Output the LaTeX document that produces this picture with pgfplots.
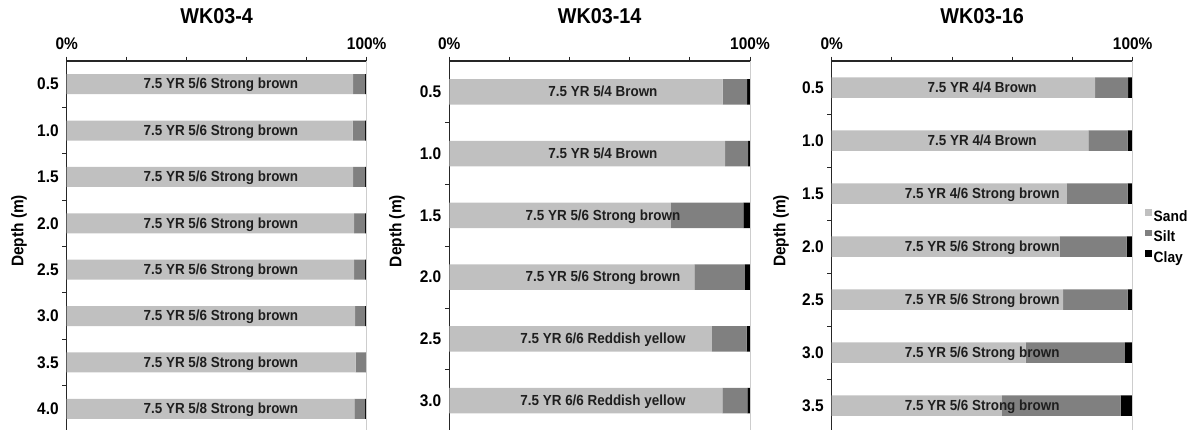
\documentclass[border=0pt]{standalone}
\usepackage{pgfplots}
\usepackage{pgfplotstable}
\pgfplotsset{compat=1.18}
\usepackage{fontspec}
\setmainfont{Liberation Sans}[FakeStretch=0.92]
\definecolor{sand}{RGB}{192,192,192}
\definecolor{silt}{RGB}{128,128,128}
\definecolor{clay}{RGB}{0,0,0}
\definecolor{framegray}{RGB}{205,205,205}
\definecolor{txt}{RGB}{30,30,30}

\pgfplotstableread{
depth sand silt clay
0.5 95.5 4.0 0.5
1.0 95.3 4.2 0.5
1.5 95.5 4.0 0.5
2.0 95.8 3.7 0.5
2.5 95.8 3.7 0.5
3.0 96.1 3.4 0.5
3.5 96.3 3.4 0.3
4.0 95.9 3.6 0.5
}\wka
\pgfplotstableread{
depth sand silt clay
0.5 90.9 8.1 1.0
1.0 91.7 7.7 0.6
1.5 73.7 24.1 2.2
2.0 81.5 16.8 1.7
2.5 87.3 11.6 1.1
3.0 90.8 8.3 0.9
}\wkb
\pgfplotstableread{
depth sand silt clay
0.5 87.5 11.0 1.5
1.0 85.3 13.0 1.7
1.5 78.1 20.2 1.7
2.0 75.8 22.2 2.0
2.5 76.9 21.4 1.7
3.0 64.4 33.0 2.6
3.5 56.5 39.5 4.0
}\wkc

\pgfplotsset{
  soilaxis/.style={
    scale only axis,
    width=300pt,
    xbar stacked,
    y dir=reverse,
    xmin=0, xmax=100,
    ymin=0.25,
    axis x line*=top,
    axis y line*=left,
    axis line style={line width=1.2pt, color=black!85},
    xtick={0,20,40,60,80,100},
    xticklabels={0\%,,,,,100\%},
    tick align=outside,
    major tick length=4.5pt,
    minor tick length=4.5pt,
    tick style={line width=1pt, color=black!85},
    every major y tick/.append style={draw=none},
    /pgf/number format/assume math mode=true,
    ticklabel style={font=\bfseries\fontsize{16.8}{19}\selectfont},
    xticklabel style={yshift=3.5pt},
    title style={font=\bfseries\fontsize{21.5}{26}\selectfont, at={(0.5,1)}, anchor=center, yshift=38.5pt},
    ylabel={Depth (m)},
    ylabel style={font=\bfseries\fontsize{16.8}{20}\selectfont, anchor=center},
    clip=false,
  },
  labaxis/.style={
    scale only axis,
    hide axis,
    y dir=reverse,
    xmin=0, xmax=100,
    ymin=0.25,
    clip=false,
  },
  labplot/.style={
    draw=none, mark=none,
    nodes near coords,
    point meta=explicit symbolic,
    nodes near coords align={center},
    every node near coord/.append style={anchor=base, yshift=-4.8pt,
      font=\bfseries\fontsize{14.6}{17}\selectfont, text=txt},
  },
  sandbar/.style={fill=sand, draw=none},
  siltbar/.style={fill=silt, draw=none},
  claybar/.style={fill=clay, draw=none},
}

\begin{document}
\begin{tikzpicture}
\path[use as bounding box] (0pt,0pt) rectangle (1190pt,-429pt);

% ---------- WK03-4 ----------
\begin{axis}[soilaxis,
  at={(66.7pt,-61pt)}, anchor=north west,
  height=371pt, ymax=4.25,
  bar width=20pt,
  title={WK03-4},
  ytick={0.5,1.0,1.5,2.0,2.5,3.0,3.5,4.0},
  yticklabels={0.5,1.0,1.5,2.0,2.5,3.0,3.5,4.0},
  minor ytick={0.75,1.25,1.75,2.25,2.75,3.25,3.75},
  ylabel style={at={(axis description cs:-0.159,0.542)}},
]
\draw[framegray, line width=0.8pt] (rel axis cs:1,0) -- (rel axis cs:1,1);
\addplot[sandbar] table[x=sand, y=depth] {\wka};
\addplot[siltbar] table[x=silt, y=depth] {\wka};
\addplot[claybar] table[x=clay, y=depth] {\wka};
\end{axis}
\begin{axis}[labaxis, at={(66.7pt,-61pt)}, anchor=north west,
  width=300pt, height=371pt, ymax=4.25]
\addplot[labplot] coordinates {
 (51.4,0.5) [7.5 YR 5/6 Strong brown]
 (51.4,1.0) [7.5 YR 5/6 Strong brown]
 (51.4,1.5) [7.5 YR 5/6 Strong brown]
 (51.4,2.0) [7.5 YR 5/6 Strong brown]
 (51.4,2.5) [7.5 YR 5/6 Strong brown]
 (51.4,3.0) [7.5 YR 5/6 Strong brown]
 (51.4,3.5) [7.5 YR 5/8 Strong brown]
 (51.4,4.0) [7.5 YR 5/8 Strong brown]
};
\end{axis}

% ---------- WK03-14 ----------
\begin{axis}[soilaxis,
  at={(449.3pt,-61pt)}, anchor=north west,
  width=300.7pt,
  height=370.5pt, ymax=3.25,
  bar width=25.3pt,
  title={WK03-14},
  ytick={0.5,1.0,1.5,2.0,2.5,3.0},
  yticklabels={0.5,1.0,1.5,2.0,2.5,3.0},
  minor ytick={0.75,1.25,1.75,2.25,2.75},
  ylabel style={at={(axis description cs:-0.174,0.541)}},
]
\draw[framegray, line width=0.8pt] (rel axis cs:1,0) -- (rel axis cs:1,1);
\addplot[sandbar] table[x=sand, y=depth] {\wkb};
\addplot[siltbar] table[x=silt, y=depth] {\wkb};
\addplot[claybar] table[x=clay, y=depth] {\wkb};
\end{axis}
\begin{axis}[labaxis, at={(449.3pt,-61pt)}, anchor=north west,
  width=300.7pt, height=370.5pt, ymax=3.25]
\addplot[labplot] coordinates {
 (51.1,0.5) [7.5 YR 5/4 Brown]
 (51.1,1.0) [7.5 YR 5/4 Brown]
 (51.1,1.5) [7.5 YR 5/6 Strong brown]
 (51.1,2.0) [7.5 YR 5/6 Strong brown]
 (51.1,2.5) [7.5 YR 6/6 Reddish yellow]
 (51.1,3.0) [7.5 YR 6/6 Reddish yellow]
};
\end{axis}

% ---------- WK03-16 ----------
\begin{axis}[soilaxis,
  at={(831.7pt,-61pt)}, anchor=north west,
  width=301pt,
  height=371pt, ymax=3.75,
  bar width=20.5pt,
  title={WK03-16},
  ytick={0.5,1.0,1.5,2.0,2.5,3.0,3.5},
  yticklabels={0.5,1.0,1.5,2.0,2.5,3.0,3.5},
  minor ytick={0.75,1.25,1.75,2.25,2.75,3.25},
  ylabel style={at={(axis description cs:-0.168,0.542)}},
  legend style={at={(rel axis cs:1.0415,0.523)}, anchor=west, draw=none, fill=none,
    inner sep=0pt, row sep=4pt,
    font=\bfseries\fontsize{15}{17}\selectfont,
    nodes={inner sep=1.5pt, text height=10.5pt, text depth=3pt}},
  legend cell align=left,
  legend image code/.code={\fill[#1] (0pt,1.7pt) rectangle (6.8pt,8.5pt);},
]
\draw[framegray, line width=0.8pt] (rel axis cs:1,0) -- (rel axis cs:1,1);
\addplot[sandbar] table[x=sand, y=depth] {\wkc};
\addplot[siltbar] table[x=silt, y=depth] {\wkc};
\addplot[claybar] table[x=clay, y=depth] {\wkc};
\legend{Sand,Silt,Clay}
\end{axis}
\begin{axis}[labaxis, at={(831.7pt,-61pt)}, anchor=north west,
  width=301pt, height=371pt, ymax=3.75]
\addplot[labplot] coordinates {
 (50,0.5) [7.5 YR 4/4 Brown]
 (50,1.0) [7.5 YR 4/4 Brown]
 (50,1.5) [7.5 YR 4/6 Strong brown]
 (50,2.0) [7.5 YR 5/6 Strong brown]
 (50,2.5) [7.5 YR 5/6 Strong brown]
 (50,3.0) [7.5 YR 5/6 Strong brown]
 (50,3.5) [7.5 YR 5/6 Strong brown]
};
\end{axis}
\end{tikzpicture}
\end{document}
